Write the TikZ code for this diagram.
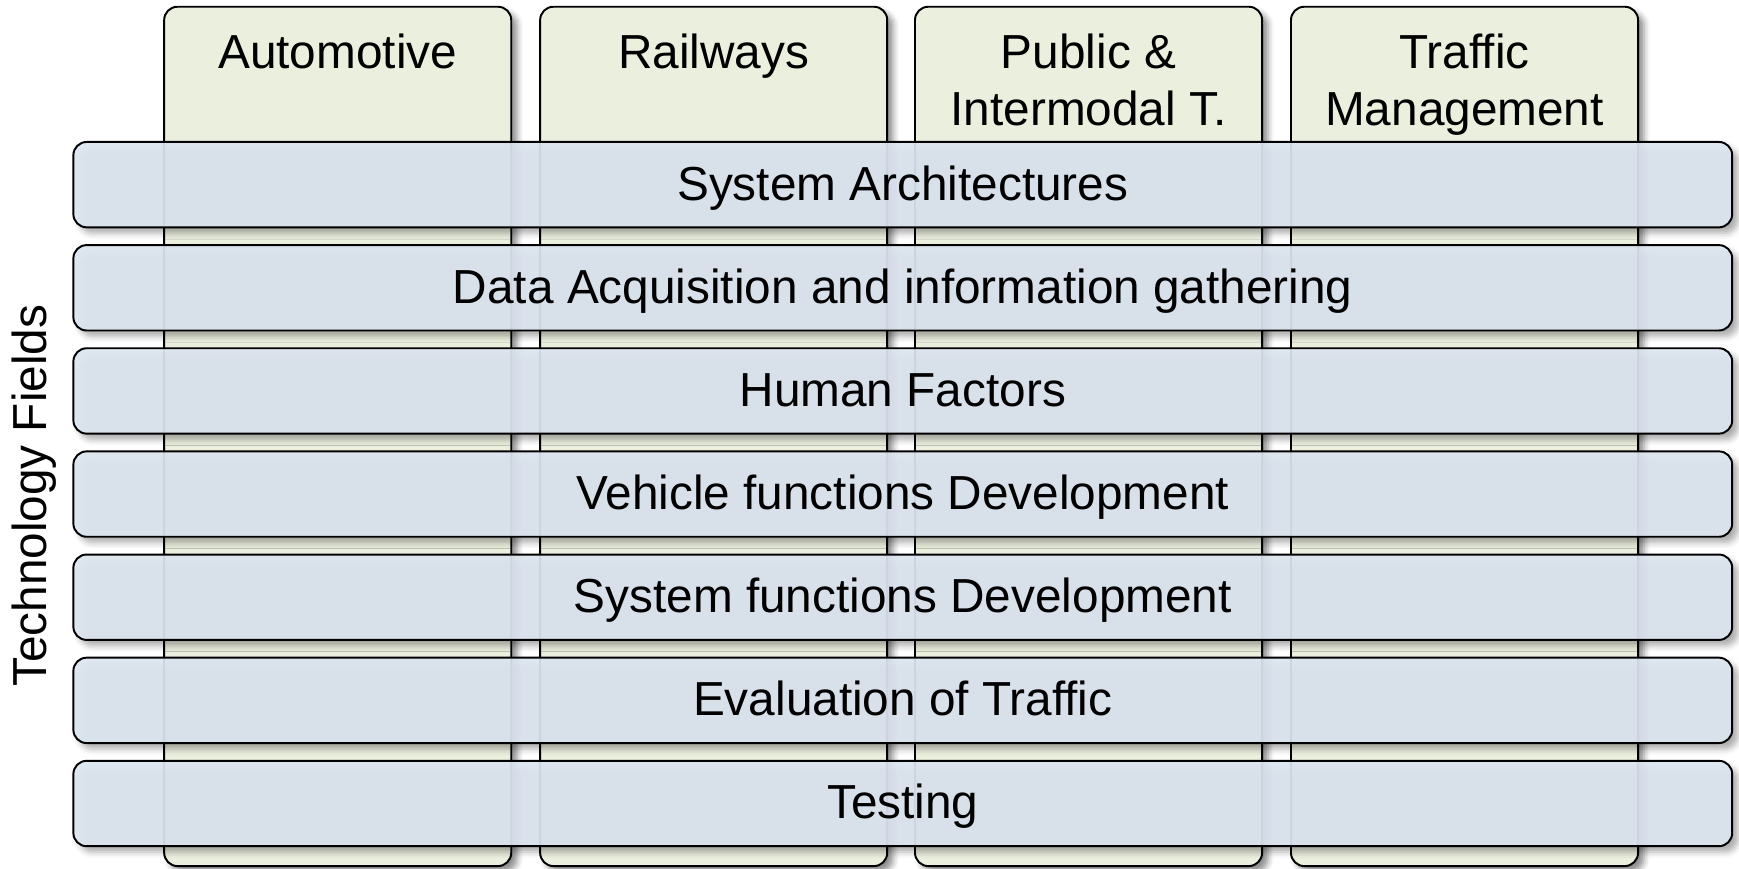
\documentclass[tikz,border=0pt]{standalone}
\usepackage{fontspec}
\setmainfont{Liberation Sans}
\usetikzlibrary{shadows.blur}

\definecolor{domainfill}{RGB}{235,239,222}
\definecolor{fieldfill}{RGB}{221,229,240}

\begin{document}
\begin{tikzpicture}[x=0.02cm, y=-0.02cm,
  every node/.style={font=\fontsize{24.5}{29.5}\selectfont},
  softshadow/.style={blur shadow={shadow xshift=3pt, shadow yshift=-3pt, shadow blur radius=3pt, shadow opacity=#1}},
  areacol/.style={draw, line width=1pt, rounded corners=0.24cm, fill=domainfill, minimum width=6.26cm, minimum height=15.5cm, softshadow=45},
  head/.style={anchor=north, align=center, inner sep=0pt, yshift=-0.5cm},
  fieldbar/.style={draw, line width=1pt, rounded corners=0.24cm, fill=fieldfill, fill opacity=0.93, text opacity=1, text height=17.5pt, text depth=1.7pt, minimum width=29.92cm, minimum height=1.54cm, softshadow=35}]
  \useasboundingbox (0,0) rectangle (1568,783);

  % application domains, drawn first so the fields lie on top
  \node (D1) [areacol, label={[head]north:Automotive}] at (304.5,393.5) {};
  \node (D2) [areacol, label={[head]north:Railways}] at (643.5,393.5) {};
  \node (D3) [areacol, label={[head]north:Public \&\\Intermodal T.}] at (981.5,393.5) {};
  \node (D4) [areacol, label={[head]north:Traffic\\Management}] at (1320.5,393.5) {};

  % technology fields
  \node (F1) [fieldbar] at (814,166.5) {System Architectures};
  \node (F2) [fieldbar] at (814,259.5) {Data Acquisition and information gathering};
  \node (F3) [fieldbar] at (814,352.5) {Human Factors};
  \node (F4) [fieldbar] at (814,445.5) {Vehicle functions Development};
  \node (F5) [fieldbar] at (814,538.5) {System functions Development};
  \node (F6) [fieldbar] at (814,631.5) {Evaluation of Traffic};
  \node (F7) [fieldbar] at (814,724.5) {Testing};

  \node (TF) [rotate=90] at (31,447) {Technology Fields};
\end{tikzpicture}
\end{document}
